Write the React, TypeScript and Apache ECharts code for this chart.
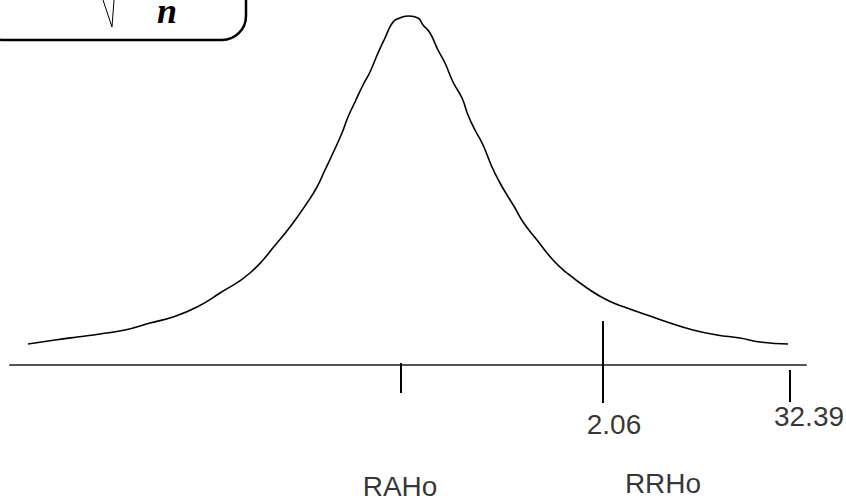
import React, { useEffect, useRef } from "react";
import * as echarts from "echarts";

// Curve points (x in schematic axis units, y in height units above the axis)
const curveX = [
  -3.73, -3.46, -3.24, -3.01, -2.76, -2.51, -2.28, -2.04, -1.81, -1.51, -1.24, -1.08, -0.94,
  -0.84, -0.76, -0.68, -0.59, -0.53, -0.46, -0.38, -0.31, -0.23, -0.16, -0.08, -0.01, 0.08,
  0.17, 0.22, 0.29, 0.37, 0.44, 0.52, 0.61, 0.67, 0.74, 0.82, 0.91, 0.99, 1.06, 1.14, 1.22,
  1.36, 1.52, 1.66, 1.86, 2.06, 2.26, 2.46, 2.69, 2.92, 3.16, 3.39, 3.59, 3.87,
];
const curveY = [
  0.21, 0.25, 0.28, 0.31, 0.35, 0.42, 0.48, 0.58, 0.72, 0.92, 1.22, 1.42, 1.62,
  1.78, 1.95, 2.12, 2.32, 2.48, 2.63, 2.8, 2.93, 3.12, 3.27, 3.43, 3.47, 3.49,
  3.47, 3.4, 3.32, 3.15, 3.02, 2.83, 2.67, 2.5, 2.35, 2.2, 1.98, 1.82, 1.7, 1.57, 1.43,
  1.25, 1.05, 0.92, 0.77, 0.65, 0.57, 0.5, 0.42, 0.35, 0.3, 0.27, 0.23, 0.21,
];

// Vertical tick marks
const tickX = [0, 2.02, 3.89];
const tickTop = [0.02, 0.44, -0.05];
const tickBottom = [-0.28, -0.38, -0.37];

// Text labels
const labelText = ["2.06", "32.39", "RAHo", "RRHo"];
const labelX = [2.13, 4.08, -0.01, 2.62];
const labelY = [-0.59, -0.51, -1.21, -1.18];

export default function App() {
  const ref = useRef<HTMLDivElement>(null);
  useEffect(() => {
    if (!ref.current) return;
    const chart = echarts.init(ref.current, null, { renderer: "svg" });
    const curve = curveX.map((x, i) => [x, curveY[i]]);
    const ticks = tickX.map((x, i) => [
      { coord: [x, tickTop[i]] },
      { coord: [x, tickBottom[i]] },
    ]);
    const labels = labelText.map((t, i) => ({ name: t, value: [labelX[i], labelY[i]] }));
    chart.setOption({
      animation: false,
      grid: { left: 10, right: 40, top: 0, bottom: 0 },
      xAxis: {
        type: "value",
        min: -3.91,
        max: 4.05,
        axisLine: { show: true, onZero: true, lineStyle: { color: "#555555", width: 2 } },
        axisTick: { show: false },
        axisLabel: { show: false },
        splitLine: { show: false },
      },
      yAxis: {
        type: "value",
        min: -1.33,
        max: 3.65,
        show: false,
        splitLine: { show: false },
      },
      graphic: [
        {
          type: "rect",
          shape: { x: -20, y: -60, width: 266, height: 100, r: 24 },
          style: { fill: "none", stroke: "#000", lineWidth: 2.5 },
        },
        {
          type: "polyline",
          shape: { points: [[103, 0], [112, 27], [114, 0]] },
          style: { fill: "none", stroke: "#000", lineWidth: 1 },
        },
        {
          type: "text",
          x: 157,
          y: 11,
          style: {
            text: "n",
            fontFamily: "Liberation Serif",
            fontStyle: "italic",
            fontWeight: "bold",
            fontSize: 36,
            fill: "#000",
            verticalAlign: "middle",
            align: "left",
          },
        },
      ],
      series: [
        {
          type: "line",
          data: curve,
          smooth: 0.5,
          showSymbol: false,
          lineStyle: { color: "#000", width: 1.6 },
          markLine: {
            silent: true,
            symbol: "none",
            label: { show: false },
            lineStyle: { color: "#000", width: 2, type: "solid" },
            data: ticks,
          },
        },
        {
          type: "scatter",
          data: labels,
          symbolSize: 0,
          clip: false,
          silent: true,
          label: {
            show: true,
            position: "inside",
            formatter: "{b}",
            color: "#000",
            fontSize: 28,
            fontFamily: "Liberation Sans, Arial, sans-serif",
          },
        },
      ],
    });
    return () => chart.dispose();
  }, []);
  return (
    <div
      ref={ref}
      style={{ position: "absolute", left: 0, top: 0, width: 846, height: 498, background: "#fff" }}
    />
  );
}
